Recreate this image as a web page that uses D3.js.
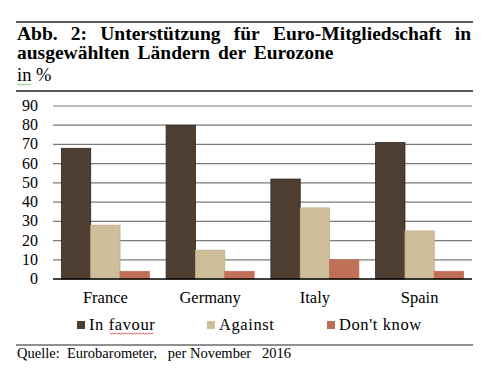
<!DOCTYPE html>
<html>
<head>
<meta charset="utf-8">
<script src="https://cdn.jsdelivr.net/npm/d3@7"></script>
<style>
  body { margin: 0; background: #fff; }
  text { font-family: "Liberation Serif", "Times New Roman", serif; fill: #000; }
</style>
</head>
<body>
<svg width="500" height="374"></svg>
<script>
// data
var countries = ["France", "Germany", "Italy", "Spain"];
var seriesNames = ["In favour", "Against", "Don't know"];
var inFavour = [68, 80, 52, 71];
var against = [28, 15, 37, 25];
var dontKnow = [4, 4, 10, 4];
var yTicks = [0, 10, 20, 30, 40, 50, 60, 70, 80, 90];

var colors = ["#4f3f33", "#cfbe9a", "#c17058"];
var strokes = ["#2e241d", "#bfae88", "#c17058"];

var svg = d3.select("svg");

var plotL = 53, plotR = 472, plotT = 106, plotB = 279;

var x0 = d3.scaleBand().domain(countries).range([plotL, plotR]).paddingInner(0.16).paddingOuter(0.08);
var x1 = d3.scaleBand().domain(seriesNames).range([0, x0.bandwidth()]);
var y = d3.scaleLinear().domain([0, 90]).range([plotB, plotT]);

// rules
svg.append("line").attr("x1", 16).attr("x2", 473).attr("y1", 22).attr("y2", 22)
  .attr("stroke", "#222").attr("stroke-width", 1.5);
svg.append("line").attr("x1", 16).attr("x2", 473).attr("y1", 91).attr("y2", 91)
  .attr("stroke", "#222").attr("stroke-width", 1.5);
svg.append("line").attr("x1", 16).attr("x2", 473).attr("y1", 345).attr("y2", 345)
  .attr("stroke", "#222").attr("stroke-width", 1.2);

// justified title line
function justify(txt, x, yy, w, size, weight){
  var words = txt.split(" ");
  var g = svg.append("g");
  var nodes = words.map(function(wd){
    return g.append("text").attr("y", yy).style("font-size", size + "px")
      .style("font-weight", weight).text(wd);
  });
  var total = d3.sum(nodes, function(n){ return n.node().getComputedTextLength(); });
  var gap = (w - total) / (words.length - 1);
  var cx = x;
  nodes.forEach(function(n){
    n.attr("x", cx);
    cx += n.node().getComputedTextLength() + gap;
  });
}
justify("Abb. 2: Unterstützung für Euro-Mitgliedschaft in", 17, 40, 454, 19.5, "bold");
svg.append("text").attr("x", 17).attr("y", 59).style("font-size", "19.5px")
  .style("font-weight", "bold").style("word-spacing", "3px")
  .text("ausgewählten Ländern der Eurozone");

svg.append("text").attr("x", 17).attr("y", 81).style("font-size", "18.5px").text("in %");
// spell-check squiggle under "in"
svg.append("path")
  .attr("d", d3.range(0, 10).map(function(i){ return (i ? "L" : "M") + (17 + i * 1.5) + "," + (84 + (i % 2)); }).join(""))
  .attr("fill", "none").attr("stroke", "#5cb85c").attr("stroke-width", 0.8);

// gridlines
svg.append("g").selectAll("line").data(yTicks.slice(1)).enter().append("line")
  .attr("x1", plotL).attr("x2", plotR)
  .attr("y1", function(d){ return y(d); }).attr("y2", function(d){ return y(d); })
  .attr("stroke", "#7a7a7a").attr("stroke-width", 1.2);

// y labels
svg.append("g").selectAll("text").data(yTicks).enter().append("text")
  .attr("x", 38).attr("y", function(d){ return y(d) + 5; })
  .attr("text-anchor", "end").style("font-size", "16px")
  .text(function(d){ return d; });

// bars
var rows = countries.map(function(c, i){
  return { country: c, values: [inFavour[i], against[i], dontKnow[i]] };
});
var groups = svg.append("g").selectAll("g").data(rows).enter().append("g")
  .attr("transform", function(d){ return "translate(" + x0(d.country) + ",0)"; });
groups.selectAll("rect").data(function(d){
    return d.values.map(function(v, j){ return { key: seriesNames[j], value: v, j: j }; });
  }).enter().append("rect")
  .attr("x", function(d){ return x1(d.key); })
  .attr("y", function(d){ return y(d.value); })
  .attr("width", x1.bandwidth())
  .attr("height", function(d){ return y(0) - y(d.value); })
  .attr("fill", function(d){ return colors[d.j]; })
  .attr("stroke", function(d){ return strokes[d.j]; })
  .attr("stroke-width", 0.8);

// baseline
svg.append("line").attr("x1", plotL).attr("x2", plotR).attr("y1", y(0)).attr("y2", y(0))
  .attr("stroke", "#000").attr("stroke-width", 1.5);

// x labels
svg.append("g").selectAll("text").data(countries).enter().append("text")
  .attr("x", function(d){ return x0(d) + x0.bandwidth() / 2; })
  .attr("y", 303).attr("text-anchor", "middle").style("font-size", "16.5px")
  .text(function(d){ return d; });

// legend
var legX = [77, 207, 327];
var leg = svg.append("g").selectAll("g").data(seriesNames).enter().append("g")
  .attr("transform", function(d, i){ return "translate(" + legX[i] + ",321)"; });
leg.append("rect").attr("width", 8).attr("height", 8)
  .attr("fill", function(d, i){ return colors[i]; });
leg.append("text").attr("x", 12).attr("y", 9).style("font-size", "16.5px")
  .style("letter-spacing", "0.6px")
  .text(function(d){ return d; });
// squiggle under "favour"
svg.append("path")
  .attr("d", d3.range(0, 30).map(function(i){ return (i ? "L" : "M") + (110 + i * 1.5) + "," + (333 + (i % 2)); }).join(""))
  .attr("fill", "none").attr("stroke", "#e03030").attr("stroke-width", 0.8);

// source
svg.append("text").attr("x", 17).attr("y", 358).style("font-size", "14.5px")
  .attr("xml:space", "preserve").style("white-space", "pre")
  .text("Quelle:  Eurobarometer,   per November   2016");
</script>
</body>
</html>
